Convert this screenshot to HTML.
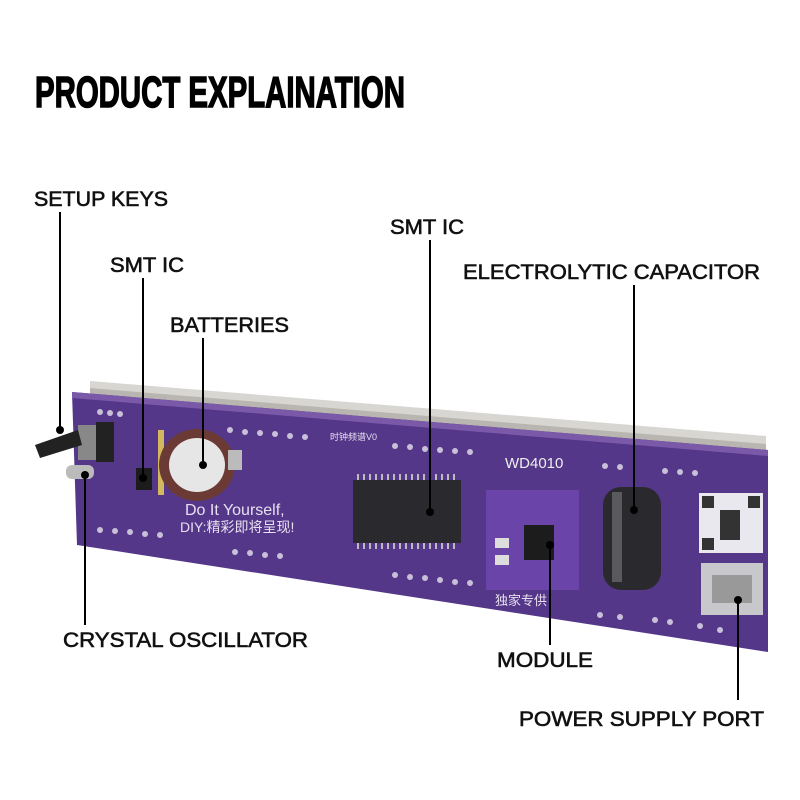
<!DOCTYPE html>
<html><head><meta charset="utf-8"><style>html,body{margin:0;padding:0;background:#fff}svg{display:block}</style></head>
<body>
<svg width="800" height="800" viewBox="0 0 800 800" xmlns="http://www.w3.org/2000/svg">
<rect width="800" height="800" fill="#fff"/>
<text x="35" y="107" font-family="Liberation Sans, sans-serif" font-weight="bold" font-size="44" textLength="370" lengthAdjust="spacingAndGlyphs" fill="#000" stroke="#000" stroke-width="1.5">PRODUCT EXPLAINATION</text>
<g font-family="Liberation Sans, sans-serif" font-size="21" fill="#111" stroke="#111" stroke-width="0.6">
<text x="34" y="206" textLength="134" lengthAdjust="spacingAndGlyphs">SETUP KEYS</text>
<text x="110" y="272" textLength="74" lengthAdjust="spacingAndGlyphs">SMT IC</text>
<text x="170" y="332" textLength="119" lengthAdjust="spacingAndGlyphs">BATTERIES</text>
<text x="390" y="234" textLength="74" lengthAdjust="spacingAndGlyphs">SMT IC</text>
<text x="463" y="279" textLength="297" lengthAdjust="spacingAndGlyphs">ELECTROLYTIC CAPACITOR</text>
<text x="63" y="647" textLength="245" lengthAdjust="spacingAndGlyphs">CRYSTAL OSCILLATOR</text>
<text x="497" y="667" textLength="96" lengthAdjust="spacingAndGlyphs">MODULE</text>
<text x="519" y="726" textLength="245" lengthAdjust="spacingAndGlyphs">POWER SUPPLY PORT</text>
</g>
<polygon points="90,381 766,436 766,452 90,394" fill="#d8d6d2"/>
<polygon points="90,388 766,444 766,452 90,394" fill="#b9b5b0"/>
<polygon points="72,392 768,450 768,652 77,545" fill="#55378a"/>
<polygon points="72,392 768,450 768,456 72,398" fill="#7a5aa8"/>
<g fill="#c8c0d8">
<circle cx="100" cy="412" r="3"/><circle cx="110" cy="413" r="3"/><circle cx="120" cy="414" r="3"/>
<circle cx="230" cy="430" r="3"/><circle cx="245" cy="432" r="3"/><circle cx="260" cy="433" r="3"/><circle cx="275" cy="434" r="3"/><circle cx="290" cy="436" r="3"/><circle cx="305" cy="437" r="3"/>
<circle cx="395" cy="446" r="3"/><circle cx="410" cy="447" r="3"/><circle cx="425" cy="449" r="3"/><circle cx="440" cy="450" r="3"/><circle cx="455" cy="451" r="3"/><circle cx="470" cy="452" r="3"/>
<circle cx="605" cy="466" r="3"/><circle cx="620" cy="467" r="3"/><circle cx="665" cy="471" r="3"/><circle cx="680" cy="472" r="3"/><circle cx="695" cy="473" r="3"/>
<circle cx="100" cy="530" r="3"/><circle cx="115" cy="531" r="3"/><circle cx="130" cy="532" r="3"/><circle cx="145" cy="534" r="3"/><circle cx="160" cy="535" r="3"/>
<circle cx="235" cy="552" r="3"/><circle cx="250" cy="553" r="3"/><circle cx="265" cy="555" r="3"/><circle cx="280" cy="556" r="3"/>
<circle cx="395" cy="575" r="3"/><circle cx="410" cy="577" r="3"/><circle cx="425" cy="578" r="3"/><circle cx="440" cy="580" r="3"/><circle cx="455" cy="582" r="3"/><circle cx="470" cy="583" r="3"/>
<circle cx="600" cy="615" r="3"/><circle cx="620" cy="617" r="3"/><circle cx="655" cy="620" r="3"/><circle cx="670" cy="622" r="3"/><circle cx="700" cy="626" r="3"/><circle cx="720" cy="630" r="3"/>
</g>
<rect x="78" y="425" width="30" height="35" fill="#888"/>
<rect x="96" y="422" width="18" height="40" fill="#222"/>
<polygon points="35,445 78,430 82,445 40,458" fill="#222"/>
<rect x="66" y="465" width="28" height="14" rx="6" fill="#bbb"/>
<rect x="136" y="468" width="16" height="22" fill="#1c1c1c"/>
<rect x="158" y="430" width="6" height="65" fill="#d4b860"/>
<ellipse cx="197" cy="465" rx="38" ry="36" fill="#6b3a34"/>
<ellipse cx="197" cy="465" rx="28" ry="27" fill="#e6e6e6"/>
<rect x="228" y="450" width="14" height="20" fill="#bbb"/>
<text x="185" y="515" font-family="Liberation Sans, sans-serif" font-size="16" fill="#e8e0f0">Do It Yourself,</text>
<text x="180" y="532" font-family="Liberation Sans, Noto Sans CJK SC, sans-serif" font-size="14" fill="#e8e0f0">DIY:精彩即将呈现!</text>
<text x="330" y="440" font-family="Liberation Sans, Noto Sans CJK SC, sans-serif" font-size="9" fill="#e8e0f0">时钟频谱V0</text>
<rect x="353" y="480" width="108" height="63" fill="#2a2a2e"/>
<g stroke="#bbb" stroke-width="2"><path d="M358 474v6M364 474v6M370 474v6M376 474v6M382 474v6M388 474v6M394 474v6M400 474v6M406 474v6M412 474v6M418 474v6M424 474v6M430 474v6M436 474v6M442 474v6M448 474v6M454 474v6M358 543v6M364 543v6M370 543v6M376 543v6M382 543v6M388 543v6M394 543v6M400 543v6M406 543v6M412 543v6M418 543v6M424 543v6M430 543v6M436 543v6M442 543v6M448 543v6M454 543v6"/></g>
<text x="505" y="468" font-family="Liberation Sans, sans-serif" font-size="15" fill="#eee">WD4010</text>
<rect x="486" y="490" width="93" height="100" fill="#6a44a8"/>
<rect x="524" y="525" width="30" height="35" fill="#1c1c1c"/>
<rect x="495" y="555" width="14" height="10" fill="#ddd"/><rect x="495" y="538" width="14" height="10" fill="#ddd"/>
<text x="495" y="605" font-family="Liberation Sans, Noto Sans CJK SC, sans-serif" font-size="13" fill="#e8e0f0">独家专供</text>
<rect x="603" y="487" width="58" height="103" rx="18" fill="#2a2a2e"/>
<rect x="612" y="492" width="10" height="90" fill="#5a5a5e"/>
<rect x="699" y="493" width="64" height="60" fill="#e8e8ee"/>
<g fill="#333"><rect x="702" y="496" width="12" height="12"/><rect x="748" y="496" width="12" height="12"/><rect x="702" y="538" width="12" height="12"/><rect x="720" y="510" width="20" height="30"/></g>
<rect x="701" y="563" width="62" height="52" fill="#c8c8cc"/>
<rect x="712" y="575" width="40" height="28" fill="#999"/>
<g stroke="#000" stroke-width="2">
<line x1="60" y1="212" x2="60" y2="430"/>
<line x1="143" y1="278" x2="143" y2="478"/>
<line x1="203" y1="338" x2="203" y2="465"/>
<line x1="430" y1="240" x2="430" y2="512"/>
<line x1="634" y1="285" x2="634" y2="510"/>
<line x1="85" y1="475" x2="85" y2="625"/>
<line x1="550" y1="545" x2="550" y2="645"/>
<line x1="738" y1="600" x2="738" y2="700"/>
</g>
<g fill="#000">
<circle cx="60" cy="430" r="4"/><circle cx="143" cy="478" r="4"/><circle cx="203" cy="465" r="4"/><circle cx="430" cy="512" r="4"/><circle cx="634" cy="510" r="4"/><circle cx="85" cy="475" r="4"/><circle cx="550" cy="545" r="4"/><circle cx="738" cy="600" r="4"/>
</g>
</svg>
</body></html>
